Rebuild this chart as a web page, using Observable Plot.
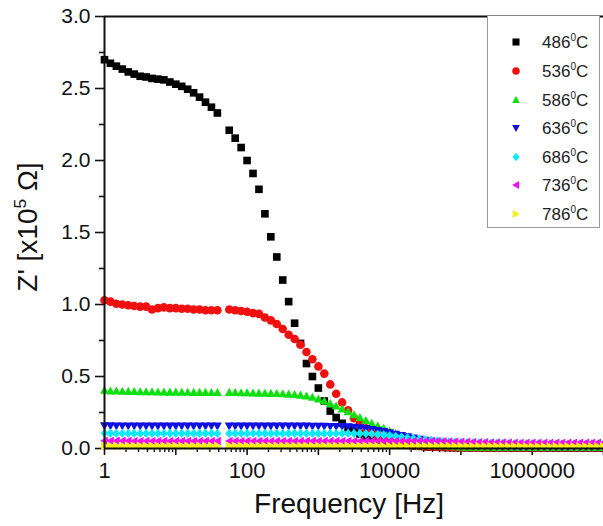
<!DOCTYPE html>
<html><head><meta charset="utf-8">
<script src="https://cdn.jsdelivr.net/npm/d3@7"></script>
<script src="https://cdn.jsdelivr.net/npm/@observablehq/plot@0.6"></script>
<style>
body{margin:0;background:#fff;font-family:"Liberation Sans",Arial,Helvetica,sans-serif;}
#wrap{position:relative;width:603px;height:526px;overflow:hidden;background:#fff;}
.lab{position:absolute;color:#111;white-space:nowrap;}
.lab sup{font-size:0.62em;vertical-align:0.62em;line-height:0;}
#legend{position:absolute;left:487px;top:16px;width:111px;height:211px;border:1px solid #999;border-top:none;background:#fff;}
.entry{position:absolute;left:0;width:111px;height:20px;}
.entry svg{position:absolute;left:22px;top:4px;}
.entry span{position:absolute;left:54px;top:1px;font-size:17px;line-height:20px;color:#222;}
.entry sup{font-size:10px;vertical-align:7px;line-height:0;}
</style></head>
<body><div id="wrap"></div>
<script>
// ---- data ----
const decades = [1, 10, 100, 1000, 10000, 100000, 1000000];
const mantissa = [1, 1.2115, 1.4678, 1.7783, 2.1544, 2.6102, 3.1623, 3.8312, 4.6416, 5.6234, 6.8129, 8.254];
const lastFreq = 10000000;

const seriesNames = ["486", "536", "586", "636", "686", "736", "786"];
const seriesColors = ["#000000", "#f01010", "#10e010", "#1010e0", "#10e8f8", "#f010f0", "#f8f010"];

const z486 = [2.70,2.675,2.655,2.635,2.615,2.60,2.585,2.58,2.57,2.565,
  2.56,2.545,2.53,2.515,2.495,2.47,2.44,2.405,2.37,2.33,
  null,
  2.21,2.155,2.09,2.00,1.91,1.80,1.63,1.47,1.33,1.17,
  1.02,0.87,0.73,0.59,0.50,0.42,0.33,0.26,0.215,0.175,
  0.145,0.12,0.10,0.085,0.07,0.058,0.048,0.04,0.033,0.027,
  0.022,0.018,0.015,0.012,0.010,0.009,0.008,0.007,0.006,0.006,
  0.005,0.005,0.005,0.004,0.004,0.004,0.004,0.003,0.003,0.003,
  0.003,0.003,0.003,0.003,0.003,0.003,0.003,0.003,0.003,0.003,
  0.003,0.003,0.003,0.003];
const z536 = [1.03,1.02,1.005,1.0,0.995,0.99,0.985,0.985,0.965,0.975,
  0.98,0.975,0.975,0.97,0.97,0.965,0.965,0.96,0.96,0.96,
  null,
  0.965,0.96,0.955,0.95,0.94,0.935,0.91,0.89,0.865,0.83,
  0.79,0.76,0.72,0.67,0.62,0.57,0.52,0.445,0.38,0.32,
  0.265,0.21,0.175,0.14,0.11,0.09,0.07,0.055,0.045,0.035,
  0.028,0.022,0.018,0.015,0.013,0.011,0.010,0.009,0.008,0.007,
  0.007,0.006,0.006,0.006,0.005,0.005,0.005,0.005,0.005,0.005,
  0.005,0.005,0.005,0.005,0.005,0.005,0.005,0.005,0.005,0.005,
  0.005,0.005,0.005,0.005];
const z586 = [0.405,0.40,0.40,0.398,0.397,0.396,0.395,0.395,0.394,0.393,
  0.393,0.392,0.392,0.391,0.391,0.390,0.390,0.390,0.389,0.389,
  null,
  0.39,0.389,0.388,0.387,0.386,0.385,0.384,0.383,0.382,0.38,
  0.378,0.375,0.371,0.365,0.356,0.344,0.33,0.312,0.295,0.275,
  0.255,0.235,0.215,0.195,0.175,0.158,0.14,0.122,0.105,0.088,
  0.073,0.06,0.048,0.038,0.03,0.024,0.019,0.016,0.013,0.011,
  0.010,0.010,0.009,0.009,0.009,0.008,0.008,0.008,0.008,0.008,
  0.008,0.008,0.008,0.008,0.008,0.008,0.008,0.008,0.008,0.008,
  0.008,0.008,0.008,0.008];
const z636 = [0.157,0.157,0.156,0.156,0.156,0.156,0.156,0.155,0.155,0.155,
  0.155,0.155,0.155,0.155,0.155,0.155,0.155,0.155,0.155,0.155,
  null,
  0.155,0.155,0.155,0.155,0.155,0.155,0.155,0.155,0.155,0.155,
  0.155,0.155,0.155,0.155,0.154,0.154,0.154,0.153,0.153,0.152,
  0.15,0.147,0.143,0.138,0.132,0.125,0.117,0.108,0.099,0.09,
  0.081,0.072,0.064,0.056,0.049,0.043,0.037,0.032,0.028,0.024,
  0.021,0.019,0.017,0.015,0.014,0.013,0.012,0.011,0.011,0.010,
  0.010,0.010,0.010,0.010,0.010,0.010,0.010,0.010,0.010,0.010,
  0.010,0.010,0.010,0.010];
const z686 = [0.106,0.106,0.105,0.105,0.105,0.105,0.105,0.105,0.105,0.105,
  0.105,0.105,0.105,0.105,0.105,0.105,0.105,0.105,0.105,0.105,
  null,
  0.105,0.105,0.105,0.105,0.105,0.105,0.105,0.105,0.105,0.105,
  0.105,0.105,0.105,0.105,0.105,0.105,0.105,0.105,0.105,0.105,
  0.105,0.104,0.104,0.103,0.102,0.098,0.094,0.089,0.084,0.079,
  0.074,0.069,0.064,0.06,0.056,0.052,0.049,0.046,0.044,0.042,
  0.04,0.039,0.038,0.037,0.036,0.035,0.035,0.034,0.034,0.033,
  0.033,0.033,0.033,0.032,0.032,0.032,0.032,0.032,0.032,0.032,
  0.032,0.032,0.032,0.032];
const z736 = [0.053,0.053,0.053,0.053,0.053,0.052,0.052,0.052,0.052,0.052,
  0.052,0.052,0.052,0.052,0.052,0.052,0.052,0.052,0.052,0.052,
  null,
  0.052,0.052,0.052,0.052,0.052,0.052,0.052,0.052,0.052,0.052,
  0.052,0.052,0.052,0.052,0.052,0.052,0.052,0.052,0.052,0.052,
  0.052,0.052,0.052,0.052,0.052,0.052,0.052,0.052,0.052,0.052,
  0.052,0.052,0.052,0.052,0.052,0.051,0.05,0.049,0.048,0.047,
  0.046,0.045,0.044,0.043,0.042,0.042,0.041,0.041,0.04,0.04,
  0.04,0.04,0.04,0.04,0.04,0.04,0.04,0.04,0.04,0.04,
  0.04,0.04,0.04,0.04];
const z786 = [0.018,0.018,0.018,0.018,0.018,0.018,0.018,0.018,0.018,0.018,
  0.018,0.018,0.018,0.018,0.018,0.018,0.018,0.018,0.018,0.018,
  null,
  0.018,0.018,0.018,0.018,0.018,0.018,0.018,0.018,0.018,0.018,
  0.018,0.018,0.018,0.018,0.018,0.018,0.018,0.018,0.018,0.018,
  0.018,0.018,0.018,0.018,0.018,0.018,0.018,0.018,0.018,0.018,
  0.018,0.018,0.018,0.018,0.018,0.018,0.018,0.018,0.018,0.018,
  0.017,0.017,0.017,0.017,0.017,0.017,0.017,0.017,0.017,0.017,
  0.016,0.016,0.016,0.016,0.016,0.016,0.016,0.016,0.016,0.016,
  0.016,0.016,0.016,0.016];

const yTickValues = [0, 0.5, 1, 1.5, 2, 2.5, 3];
const yTickLabels = ["0.0", "0.5", "1.0", "1.5", "2.0", "2.5", "3.0"];
const yMinorValues = [0.25, 0.75, 1.25, 1.75, 2.25, 2.75];
const xTickValues = [1, 100, 10000, 1000000];
const xTickLabels = ["1", "100", "10000", "1000000"];
const xMajorValues = [1, 10, 100, 1000, 10000, 100000, 1000000, 10000000];
const xMinorFactors = [2, 3, 4, 5, 6, 7, 8, 9];

const xTitle = "Frequency [Hz]";

// ---- symbols ----
const tri = (dir) => ({
  draw(c, size) {
    const w = Math.sqrt(size) * 0.55, h = w * 0.8;
    if (dir === "up") { c.moveTo(0, -w); c.lineTo(w, h); c.lineTo(-w, h); }
    if (dir === "down") { c.moveTo(0, w); c.lineTo(w, -h); c.lineTo(-w, -h); }
    if (dir === "left") { c.moveTo(-w, 0); c.lineTo(h, -w); c.lineTo(h, w); }
    if (dir === "right") { c.moveTo(w, 0); c.lineTo(-h, -w); c.lineTo(-h, w); }
    c.closePath();
  }
});
const diamond = { draw(c, size) { const w = Math.sqrt(size) * 0.6; c.moveTo(0, -w); c.lineTo(w * 0.85, 0); c.lineTo(0, w); c.lineTo(-w * 0.85, 0); c.closePath(); } };
const seriesSymbols = [d3.symbolSquare, d3.symbolCircle, tri("up"), tri("down"), diamond, tri("left"), tri("right")];
const seriesRadius = [4.3, 4.3, 4.6, 4.6, 4.4, 4.4, 4.4];
const seriesValues = [z486, z536, z586, z636, z686, z736, z786];

// ---- build table ----
const freq = decades.flatMap(d => mantissa.map(m => m * d)).concat([lastFreq]);
const xMinorValues = decades.flatMap(d => xMinorFactors.map(f => f * d));

const dotMarks = seriesNames.map((name, s) => {
  const rows = freq.map((f, i) => ({f, v: seriesValues[s][i]})).filter(d => d.v != null);
  return Plot.dot(rows, {x: "f", y: "v", r: seriesRadius[s], symbol: seriesSymbols[s], fill: seriesColors[s], stroke: "none"});
});

const plot = Plot.plot({
  width: 603, height: 526,
  marginLeft: 104, marginRight: 0, marginTop: 16, marginBottom: 78,
  x: {type: "log", domain: [1, 1e7], label: null},
  y: {domain: [0, 3], label: null},
  style: {fontFamily: "'Liberation Sans', Arial, sans-serif", color: "#111", background: "white", overflow: "visible"},
  marks: [
    Plot.ruleY([3], {strokeWidth: 2, stroke: "#111"}),
    Plot.axisY(yTickValues, {tickSize: 9, tickPadding: 5, fontSize: 21, strokeWidth: 1.6, label: null,
      tickFormat: d => yTickLabels[yTickValues.indexOf(d)]}),
    Plot.axisY(yMinorValues, {tickSize: 5, strokeWidth: 1.6, label: null, tickFormat: () => ""}),
    Plot.axisX(xMajorValues, {tickSize: 7, tickPadding: 7, fontSize: 22, strokeWidth: 1.6, label: null,
      tickFormat: d => { const k = xTickValues.indexOf(d); return k < 0 ? "" : xTickLabels[k]; }}),
    Plot.axisX(xMinorValues, {tickSize: 4, strokeWidth: 1.4, label: null, tickFormat: () => ""}),
    ...dotMarks,
    Plot.ruleX([1], {strokeWidth: 2, stroke: "#111"}),
    Plot.ruleY([0], {strokeWidth: 2, stroke: "#111"})
  ]
});

const wrap = document.getElementById("wrap");
wrap.appendChild(plot);

// axis titles
const xl = document.createElement("div");
xl.className = "lab";
xl.style.cssText = "left:199px;width:300px;top:490px;text-align:center;font-size:28px;line-height:28px;";
xl.textContent = xTitle;
wrap.appendChild(xl);

const yl = document.createElement("div");
yl.className = "lab";
yl.style.cssText = "left:-72px;width:200px;top:211px;height:32px;text-align:center;font-size:28px;line-height:32px;transform:rotate(-90deg);";
yl.innerHTML = "Z' [x10<sup>5</sup> &Omega;]";
wrap.appendChild(yl);

// legend
const legend = document.createElement("div");
legend.id = "legend";
const entryCenters = [26, 55, 84, 112, 141, 169, 198];
seriesNames.forEach((name, s) => {
  const e = document.createElement("div");
  e.className = "entry";
  e.style.top = (entryCenters[s] - 10) + "px";
  const svg = d3.create("svg").attr("width", 12).attr("height", 12).attr("viewBox", "-6 -6 12 12");
  svg.append("path").attr("d", d3.symbol(seriesSymbols[s], s === 1 ? 44 : 50)()).attr("fill", seriesColors[s]);
  e.appendChild(svg.node());
  const sp = document.createElement("span");
  sp.innerHTML = name + "<sup>0</sup>C";
  e.appendChild(sp);
  legend.appendChild(e);
});
wrap.appendChild(legend);
</script>
</body></html>
